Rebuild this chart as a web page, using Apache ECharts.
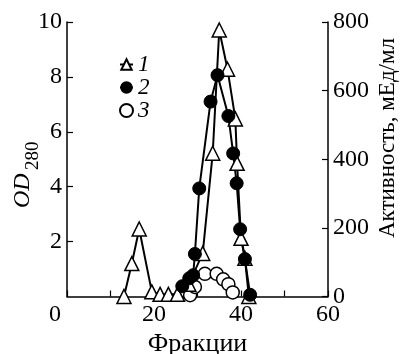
<!DOCTYPE html>
<html>
<head>
<meta charset="utf-8">
<script src="https://cdn.jsdelivr.net/npm/echarts@6/dist/echarts.min.js"></script>
<style>
  html, body { margin: 0; padding: 0; background: #fff; }
  #chart { width: 401px; height: 354px; }
</style>
</head>
<body>
<div id="chart"></div>
<script>
// 1 - OD280 (треугольники)
const frac1 = [13.1, 14.9, 16.6, 19.5, 21.4, 23.3, 25.4, 28.0, 31.2, 33.5, 35.0, 36.9, 38.7, 39.1, 40.0, 40.9, 41.8]
const od1 = [0, 1.2, 2.46, 0.17, 0.08, 0.08, 0.08, 0.45, 1.57, 5.22, 9.71, 8.28, 6.47, 4.85, 2.12, 1.39, 0]
// 2 - активность (залитые кружки)
const frac2 = [26.5, 28.1, 29.0, 29.4, 30.4, 33.0, 34.6, 37.1, 38.2, 39.0, 39.8, 40.9, 42.1]
const act2 = [30, 53, 62, 124, 315, 568, 645, 526, 417, 330, 196, 109, 5]
// 3 - активность (пустые кружки)
const frac3 = [28.3, 29.4, 31.7, 34.4, 35.9, 37.1, 38.1]
const act3 = [4, 28, 66, 66, 50, 36, 12]

const xTicks = [0, 20, 40, 60]
const font = '"Liberation Serif", "Times New Roman", serif'

function zip (xs, ys) {
  return xs.map((x, i) => [x, ys[i]])
}

const option = {
  animation: false,
  backgroundColor: '#fff',
  grid: { left: 67, right: 73, top: 22, bottom: 57.5, outerBoundsMode: 'none', containLabel: false },
  legend: {
    orient: 'vertical',
    left: 114,
    top: 48,
    itemWidth: 13,
    itemHeight: 13,
    itemGap: 0,
    data: ['1', '2', '3'],
    textStyle: { fontFamily: font, fontSize: 23, fontStyle: 'italic', color: '#000', lineHeight: 21 }
  },
  xAxis: {
    type: 'value',
    min: 0,
    max: 60,
    interval: 10,
    name: 'Фракции',
    nameLocation: 'middle',
    nameGap: 30,
    nameTextStyle: { fontFamily: font, fontSize: 26, color: '#000' },
    axisLine: { onZero: false, lineStyle: { color: '#000', width: 1.5 } },
    axisTick: { inside: true, length: 6, lineStyle: { color: '#000', width: 1.2 } },
    splitLine: { show: false },
    axisLabel: {
      fontFamily: font,
      fontSize: 24,
      color: '#000',
      margin: 6,
      formatter: function (v) {
        if (xTicks.indexOf(v) < 0) return ''
        return v === 0 ? '{l|0}' : String(v)
      },
      rich: { l: { fontFamily: font, fontSize: 24, color: '#000', padding: [0, 24, 0, 0] } }
    }
  },
  yAxis: [
    {
      type: 'value',
      min: 0,
      max: 10,
      interval: 2,
      axisLine: { show: true, onZero: false, lineStyle: { color: '#000', width: 1.5 } },
      axisTick: { show: true, inside: true, length: 6, lineStyle: { color: '#000', width: 1.2 } },
      splitLine: { show: false },
      axisLabel: { showMinLabel: false, fontFamily: font, fontSize: 24, color: '#000', margin: 5 }
    },
    {
      type: 'value',
      min: 0,
      max: 800,
      interval: 200,
      position: 'right',
      axisLine: { show: true, onZero: false, lineStyle: { color: '#000', width: 1.5 } },
      axisTick: { show: true, inside: true, length: 6, lineStyle: { color: '#000', width: 1.2 } },
      splitLine: { show: false },
      axisLabel: { fontFamily: font, fontSize: 24, color: '#000', margin: 5 }
    }
  ],
  graphic: [
    {
      type: 'text',
      x: 23,
      y: 208,
      rotation: Math.PI / 2,
      style: {
        text: 'OD',
        align: 'left',
        verticalAlign: 'middle',
        fontFamily: font,
        fontSize: 24,
        fontStyle: 'italic',
        fill: '#000'
      }
    },
    {
      type: 'text',
      x: 33,
      y: 170,
      rotation: Math.PI / 2,
      style: {
        text: '280',
        align: 'left',
        verticalAlign: 'middle',
        fontFamily: font,
        fontSize: 19,
        fill: '#000'
      }
    },
    {
      type: 'text',
      x: 388,
      y: 138,
      rotation: Math.PI / 2,
      style: {
        text: 'Активность, мЕд/мл',
        align: 'center',
        verticalAlign: 'middle',
        fontFamily: font,
        fontSize: 23,
        fill: '#000'
      }
    }
  ],
  series: [
    {
      name: '1',
      type: 'line',
      yAxisIndex: 0,
      data: zip(frac1, od1),
      symbol: 'triangle',
      symbolSize: 14,
      showAllSymbol: true,
      lineStyle: { color: '#000', width: 2 },
      itemStyle: { color: '#fff', borderColor: '#000', borderWidth: 1.5 }
    },
    {
      name: '2',
      type: 'line',
      yAxisIndex: 1,
      data: zip(frac2, act2),
      symbol: 'circle',
      symbolSize: 13,
      showAllSymbol: true,
      lineStyle: { color: '#000', width: 2 },
      itemStyle: { color: '#000', borderColor: '#000', borderWidth: 1 }
    },
    {
      name: '3',
      type: 'scatter',
      yAxisIndex: 1,
      data: zip(frac3, act3),
      symbol: 'circle',
      symbolSize: 13,
      itemStyle: { color: '#fff', borderColor: '#000', borderWidth: 1.5, opacity: 1 }
    }
  ]
}

const chart = echarts.init(document.getElementById('chart'))
chart.setOption(option)
</script>
</body>
</html>
